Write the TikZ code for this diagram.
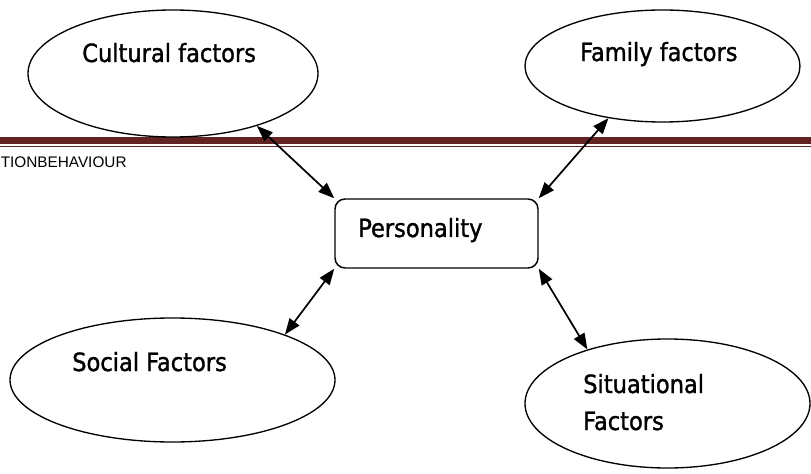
\documentclass[tikz,border=0pt]{standalone}
\usepackage{fontspec}
\setmainfont{Liberation Sans}
\newfontfamily\labelfont{DejaVu Sans Condensed}[FakeBold=1.3]
\usetikzlibrary{shapes.geometric,arrows.meta}
\definecolor{bandred}{RGB}{98,36,35}
\begin{document}
\begin{tikzpicture}[x=0.75pt,y=-0.75pt,
  factor/.style={draw,ellipse,line width=1pt,inner sep=0pt},
  hub/.style={draw,rectangle,rounded corners=7.5pt,line width=1.1pt,inner sep=0pt},
  caption/.style={font=\labelfont\fontsize{18.8}{22}\selectfont,inner sep=0pt,anchor=base west},
  link/.style={{Triangle[length=12pt,width=9pt]}-{Triangle[length=12pt,width=9pt]},line width=1.3pt}]
\useasboundingbox (0,0) rectangle (811,474);
\clip (0,0) rectangle (811,474);

% running header rule and title
\fill[bandred] (0,136.7) rectangle (811,144);
\fill[bandred] (0,145.7) rectangle (811,147.3);
\node[font=\fontsize{11.5}{14}\selectfont,inner sep=0pt,anchor=base west] (hdr) at (0.5,168) {TIONBEHAVIOUR};

% influence ellipses
\node[factor,minimum width={290*0.75pt},minimum height={127*0.75pt}] (cult) at (173,73.5) {};
\node[factor,minimum width={275*0.75pt},minimum height={112*0.75pt}] (fam) at (662.5,66) {};
\node[factor,minimum width={325*0.75pt},minimum height={124*0.75pt}] (soc) at (172.5,380) {};
\node[factor,minimum width={285*0.75pt},minimum height={129*0.75pt}] (sit) at (667.5,403.5) {};

% central box
\node[hub,minimum width={203*0.75pt},minimum height={69*0.75pt}] (pers) at (436.5,233.5) {};

% labels
\node[caption] (cultT) at (82,62) {Cultural factors};
\node[caption] (famT) at (580,61) {Family factors};
\node[caption] (persT) at (358,237) {Personality};
\node[caption] (socT) at (72,371) {Social Factors};
\node[caption] (sitT1) at (583,393) {Situational};
\node[caption] (sitT2) at (583,430) {Factors};

% two-way links
\draw[link] (cult.-32) -- (pers.north west);
\draw[link] (fam.-136.7) -- (pers.north east);
\draw[link] (soc.22) -- (pers.south west);
\draw[link] (sit.146.4) -- (pers.south east);
\end{tikzpicture}
\end{document}
